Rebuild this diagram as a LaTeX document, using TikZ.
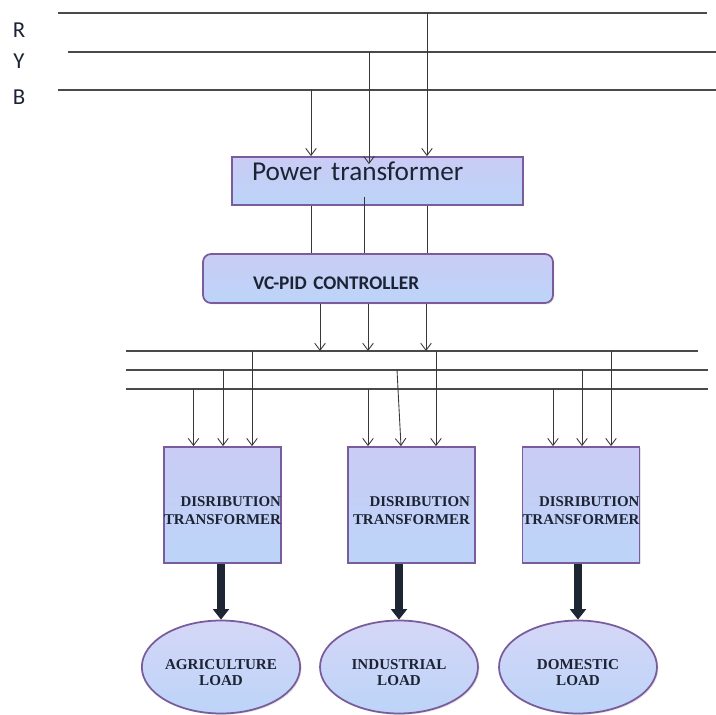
\documentclass[tikz,border=0pt]{standalone}
\usepackage{fontspec}
\setmainfont{Liberation Serif}
\newfontfamily\calibri{Carlito}
\usepackage{xcolor}
\usepackage{tikz}
\usetikzlibrary{shapes.geometric, arrows.meta, calc, shadows}
\definecolor{busgray}{HTML}{4A4A4A}
\definecolor{tapgray}{HTML}{383838}
\definecolor{boxedge}{HTML}{7A5C9C}
\definecolor{boxtop}{HTML}{CACCF5}
\definecolor{boxbot}{HTML}{BCD4F8}
\definecolor{inktext}{HTML}{1C2434}
\definecolor{heavyink}{HTML}{1E2633}
\newcommand{\lowerline}{\rule{0pt}{12pt}}
\tikzset{
  phase/.style={draw=busgray, line width=0.75pt},
  tap/.style={draw=tapgray, line width=0.5pt,
    -{Straight Barb[length=4pt, width=6pt]}},
  feed/.style={draw=tapgray, line width=0.5pt},
  unitbox/.style={rectangle, draw=boxedge, line width=1pt,
    top color=boxtop, bottom color=boxbot, text=inktext,
    drop shadow={opacity=0.2, shadow xshift=0.8pt, shadow yshift=-0.8pt}},
  ptbox/.style={unitbox, align=left, inner ysep=0pt,
    font=\calibri\fontsize{15.5}{18}\selectfont},
  ctrlbox/.style={unitbox, rounded corners=0.16cm, align=left, inner ysep=0pt,
    font=\calibri\bfseries\fontsize{11}{13}\selectfont},
  dtbox/.style={unitbox, align=right, inner xsep=0pt, minimum height=2.32cm,
    font=\bfseries\fontsize{8.5}{10}\selectfont},
  loadnode/.style={ellipse, draw=boxedge, line width=1pt, inner sep=0pt,
    top color=boxtop!80!white, bottom color=boxbot, text=inktext,
    minimum width=3.16cm, minimum height=1.86cm, align=center,
    font=\bfseries\fontsize{8.6}{9.5}\selectfont,
    drop shadow={opacity=0.2, shadow xshift=0.8pt, shadow yshift=-0.8pt}},
  feedarrow/.style={draw=heavyink, line width=4pt,
    -{Triangle[length=6pt, width=9pt]}},
  phaselabel/.style={font=\calibri\fontsize{13}{15}\selectfont, text=inktext},
}

\begin{document}
\begin{tikzpicture}[x=0.02cm, y=-0.02cm]
  \useasboundingbox (0,0) rectangle (716,715);

  % --- Supply lines R, Y, B ---
  \coordinate (r-w) at (58,13);  \coordinate (r-e) at (707,13);
  \coordinate (y-w) at (68,52);  \coordinate (y-e) at (716,52);
  \coordinate (b-w) at (58,90);  \coordinate (b-e) at (716,90);
  \foreach \ph in {r, y, b}
    \draw[phase] (\ph-w) -- (\ph-e);

  \node[phaselabel] (lblR) at (19,30) {R};
  \node[phaselabel] (lblY) at (19,61) {Y};
  \node[phaselabel] (lblB) at (19,97) {B};

  % --- Power transformer and controller ---
  \node[ptbox, text width=5.02cm, inner xsep=0.4cm,
        text height=0.474cm, text depth=0.486cm]
        (pt) at (377.5,181) {Power transformer};
  \node[ctrlbox, text width=5cm, inner xsep=1cm,
        text height=0.706cm, text depth=0.274cm]
        (vc) at (378,278.5) {VC-PID CONTROLLER};

  % --- Taps into the power transformer ---
  \coordinate (tapB) at (311,90);
  \coordinate (tapY) at (369,52);
  \coordinate (tapR) at (427,13);
  \draw[tap] (tapB) -- (tapB |- pt.north);
  \draw[tap, shorten >=-0.16cm] (tapY) -- (tapY |- pt.north);
  \draw[tap] (tapR) -- (tapR |- pt.north);

  % --- Power transformer to controller ---
  \coordinate (midY) at (364,197);
  \draw[feed] (pt.south -| tapB) -- (vc.north -| tapB);
  \draw[feed] (midY) -- (midY |- vc.north);
  \draw[feed] (pt.south -| tapR) -- (vc.north -| tapR);

  % --- Distribution bus ---
  \coordinate (l1-w) at (126,351); \coordinate (l1-e) at (698,351);
  \coordinate (l2-w) at (126,370); \coordinate (l2-e) at (708,370);
  \coordinate (l3-w) at (126,389); \coordinate (l3-e) at (708,389);
  \foreach \ln in {l1, l2, l3}
    \draw[phase] (\ln-w) -- (\ln-e);

  \foreach \x in {320, 368, 426} {
    \coordinate (vcout) at (\x,0);
    \draw[tap] (vcout |- vc.south) -- (vcout |- l1-w);
  }

  % --- Distribution transformers ---
  \node[dtbox, minimum width=2.34cm] (dt1) at (222.5,505) {\lowerline DISRIBUTION\\TRANSFORMER};
  \node[dtbox, minimum width=2.54cm] (dt2) at (411.5,505) {\lowerline DISRIBUTION\\TRANSFORMER};
  \node[dtbox, minimum width=2.32cm] (dt3) at (581,505) {\lowerline DISRIBUTION\\TRANSFORMER};

  \foreach \x/\ln in {193.5/l3, 223/l2, 252/l1} {
    \coordinate (drop) at (\x,0);
    \draw[tap] (drop |- \ln-w) -- (drop |- dt1.north);
  }
  \coordinate (slantA) at (397,370);
  \coordinate (slantB) at (401,0);
  \foreach \x/\ln in {368/l3, 436/l1} {
    \coordinate (drop) at (\x,0);
    \draw[tap] (drop |- \ln-w) -- (drop |- dt2.north);
  }
  \draw[tap] (slantA) -- (slantB |- dt2.north);
  \foreach \x/\ln in {553/l3, 582/l2, 611/l1} {
    \coordinate (drop) at (\x,0);
    \draw[tap] (drop |- \ln-w) -- (drop |- dt3.north);
  }

  % --- Loads ---
  \node[loadnode] (agri) at (221,667) {\lowerline AGRICULTURE\\LOAD};
  \node[loadnode] (indus) at (399,667) {\lowerline INDUSTRIAL\\LOAD};
  \node[loadnode] (dom) at (578,667) {\lowerline DOMESTIC\\LOAD};

  \draw[feedarrow] (dt1.south -| agri.north) -- (agri.north);
  \draw[feedarrow] (dt2.south -| indus.north) -- (indus.north);
  \draw[feedarrow] (dt3.south -| dom.north) -- (dom.north);

\end{tikzpicture}
\end{document}
